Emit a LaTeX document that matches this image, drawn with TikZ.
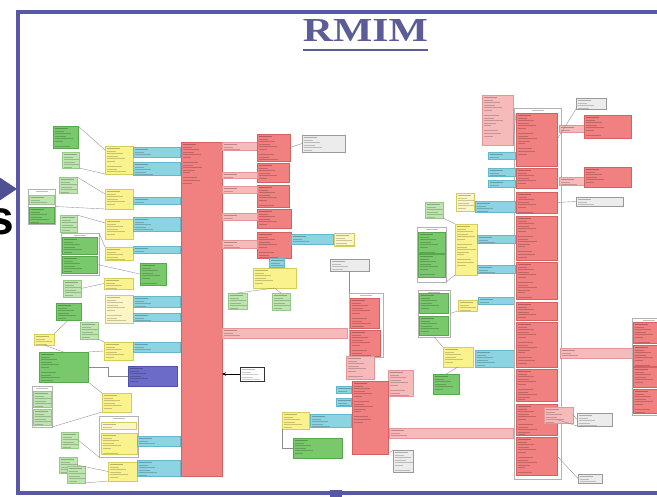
\documentclass[tikz,border=0pt]{standalone}
\usepackage{fontspec}
\usepackage{graphicx}
\setmainfont{Liberation Serif}
\newfontfamily\sansb{Liberation Sans}
\usetikzlibrary{fit,arrows.meta}
\definecolor{redF}{RGB}{241,128,128}
\definecolor{redD}{RGB}{214,96,96}
\definecolor{pinkF}{RGB}{246,186,186}
\definecolor{pinkD}{RGB}{226,150,150}
\definecolor{cyanF}{RGB}{140,212,226}
\definecolor{cyanD}{RGB}{100,184,204}
\definecolor{yelF}{RGB}{250,242,140}
\definecolor{yelD}{RGB}{214,204,90}
\definecolor{pyelF}{RGB}{252,246,198}
\definecolor{grnF}{RGB}{122,200,108}
\definecolor{grnD}{RGB}{86,168,76}
\definecolor{lgrnF}{RGB}{190,228,176}
\definecolor{lgrnD}{RGB}{150,200,136}
\definecolor{purF}{RGB}{108,108,200}
\definecolor{purD}{RGB}{80,80,170}
\definecolor{frameC}{RGB}{88,88,166}
\definecolor{titleC}{RGB}{92,92,150}
\definecolor{noteF}{RGB}{236,236,236}
\tikzset{
  base/.style={rectangle,inner sep=0pt,outer sep=0pt,line width=0.4pt},
  tx/.style={path picture={
    \draw[line width=0.9pt,draw=black,draw opacity=0.26]
      ([xshift=1.6pt,yshift=-2.6pt]path picture bounding box.north west) -- ++(13pt,0pt);
    \foreach \k/\w in {1/9,2/16,3/11,4/18,5/8,7/15,8/10,9/19,10/12,11/7,13/14,14/17,15/9}{
      \pgfmathsetmacro\yy{2.6+\k*2.55}
      \draw[line width=0.6pt,draw=black,draw opacity=0.2]
        ([xshift=1.6pt,yshift=-\yy pt]path picture bounding box.north west) -- ++(\w pt,0pt);
    }}},
  redb/.style={base,tx,draw=redD,fill=redF},
  pinkb/.style={base,tx,draw=pinkD,fill=pinkF},
  cyanb/.style={base,tx,draw=cyanD,fill=cyanF},
  yelb/.style={base,tx,draw=yelD,fill=yelF},
  pyelb/.style={base,tx,draw=yelD,fill=pyelF},
  grnb/.style={base,tx,draw=grnD,fill=grnF},
  lgrnb/.style={base,tx,draw=lgrnD,fill=lgrnF},
  purb/.style={base,tx,draw=purD,fill=purF},
  noteb/.style={base,tx,draw=black!40,fill=noteF},
  wb/.style={base,tx,draw=black!80,fill=white,line width=0.6pt},
  grpb/.style={base,draw=black!30,fill=white,line width=0.35pt,
    path picture={\draw[line width=0.5pt,draw=black,draw opacity=0.25]
      ([xshift=-6pt,yshift=-2pt]path picture bounding box.north) -- ++(12pt,0pt);}},
  conn/.style={draw=black!45,line width=0.35pt},
}
\newcommand\umlbox[6]{\node[#2,fit={(#3,#4) (#5,#6)}] (#1) {};}
\begin{document}
\begin{tikzpicture}[x=1pt,y=-1pt]
\useasboundingbox (0,0) rectangle (657,497);
\fill[white] (0,0) rectangle (657,497);
% frame
\draw[frameC,line width=4.5pt] (18,12) rectangle (690,493);
\fill[frameC] (330,490) rectangle (342,497);
\fill[frameC!90!black] (-4,175) -- (17,189) -- (-4,203) -- cycle;
\node[anchor=base east,inner sep=0pt,font=\sansb\bfseries\fontsize{48}{48}\selectfont] (sfrag) at (14,235) {s};
% title
\node[anchor=base,inner sep=0pt,text=titleC] (title) at (365.5,42) {\resizebox{125pt}{22pt}{\bfseries RMIM}};
\draw[titleC,line width=2.5pt] ([yshift=-8pt]title.base west) -- ([yshift=-8pt]title.base east);

% ---------------- left part ----------------
\umlbox{R0}{redb}{181}{142}{222}{476}
\umlbox{G1}{grnb}{53}{126}{78}{148}
\umlbox{LG1}{lgrnb}{62}{152}{79}{168}
\umlbox{Y1}{yelb}{105}{146}{133}{174}
\umlbox{C1}{cyanb}{133}{147}{180}{157}
\umlbox{C2}{cyanb}{133}{162}{180}{175}
\umlbox{LG2}{lgrnb}{59}{177}{77}{193}
\umlbox{Grp1}{grpb}{28}{189}{55}{224}
\umlbox{LG3}{lgrnb}{29}{195}{54}{204}
\umlbox{G2}{grnb}{29}{207}{54}{223}
\umlbox{Y2}{yelb}{105}{189}{133}{209}
\umlbox{C3}{cyanb}{133}{197}{180}{204}
\umlbox{LG4}{lgrnb}{60}{215}{77}{232}
\umlbox{Y3}{yelb}{105}{219}{133}{239}
\umlbox{C4}{cyanb}{133}{217}{180}{231}
\umlbox{Grp2}{grpb}{61}{233}{99}{275}
\umlbox{G3}{grnb}{62}{237}{97}{254}
\umlbox{G4}{grnb}{62}{256}{97}{273}
\umlbox{Y4}{yelb}{105}{247}{133}{260}
\umlbox{C5}{cyanb}{133}{246}{180}{253}
\umlbox{G5}{grnb}{140}{263}{166}{285}
\umlbox{LG5}{lgrnb}{63}{280}{81}{297}
\umlbox{Y5}{yelb}{104}{278}{133}{289}
\umlbox{Y6}{pyelb}{105}{295}{133}{323}
\umlbox{C6}{cyanb}{133}{296}{180}{307}
\umlbox{C7}{cyanb}{133}{313}{180}{321}
\umlbox{G6}{grnb}{56}{303}{81}{320}
\umlbox{LG6}{lgrnb}{80}{322}{98}{339}
\umlbox{Y7}{yelb}{34}{334}{54}{345}
\umlbox{Y8}{yelb}{104}{342}{133}{360}
\umlbox{C8}{cyanb}{133}{342}{180}{352}
\umlbox{G7}{grnb}{39}{352}{88}{382}
\umlbox{P1}{purb}{128}{366}{177}{386}
\umlbox{Grp3}{grpb}{32}{386}{52}{427}
\umlbox{LG7}{lgrnb}{33}{391}{51}{407}
\umlbox{LG8}{lgrnb}{33}{409}{51}{425}
\umlbox{Y9}{yelb}{102}{393}{131}{412}
\umlbox{Grp4}{grpb}{99}{416}{138}{457}
\umlbox{PY2}{pyelb}{101}{422}{136}{429}
\umlbox{Y10}{yelb}{101}{433}{137}{454}
\umlbox{C9}{cyanb}{137}{436}{180}{446}
\umlbox{LG9}{lgrnb}{61}{432}{78}{448}
\umlbox{LG10}{lgrnb}{59}{457}{77}{473}
\umlbox{LG11}{lgrnb}{67}{466}{85}{483}
\umlbox{Y11}{yelb}{108}{462}{137}{481}
\umlbox{C10}{cyanb}{137}{460}{180}{476}

% ---------------- middle part ----------------
\umlbox{PK1}{pinkb}{222}{142}{257}{150}
\umlbox{R1}{redb}{257}{134}{290}{161}
\umlbox{N1}{noteb}{302}{135}{345}{152}
\umlbox{R2}{redb}{257}{163}{289}{182}
\umlbox{PK2}{pinkb}{222}{172}{257}{178}
\umlbox{R3}{redb}{257}{185}{289}{207}
\umlbox{PK3}{pinkb}{222}{186}{257}{193}
\umlbox{R4}{redb}{257}{209}{291}{228}
\umlbox{PK4}{pinkb}{222}{213}{257}{220}
\umlbox{R5}{redb}{257}{232}{291}{258}
\umlbox{PK5}{pinkb}{222}{240}{257}{248}
\umlbox{C11}{cyanb}{291}{234}{333}{244}
\umlbox{PY3}{pyelb}{334}{233}{354}{246}
\umlbox{C12}{cyanb}{269}{258}{284}{267}
\umlbox{Y12}{yelb}{253}{268}{296}{288}
\umlbox{LG12}{lgrnb}{228}{293}{247}{309}
\umlbox{LG13}{lgrnb}{272}{293}{290}{310}
\umlbox{N2}{noteb}{330}{259}{369}{271}
\umlbox{Grp5}{grpb}{349}{293}{383}{357}
\umlbox{R6}{redb}{350}{298}{379}{328}
\umlbox{R7}{redb}{350}{330}{380}{356}
\umlbox{PK6}{pinkb}{222}{328}{347}{338}
\umlbox{PK7}{pinkb}{346}{356}{374}{379}
\umlbox{W1}{wb}{240}{367}{264}{381}
\umlbox{PK8}{pinkb}{388}{370}{413}{396}
\umlbox{R8}{redb}{352}{381}{388}{454}
\umlbox{C13}{cyanb}{336}{386}{351}{393}
\umlbox{C14}{cyanb}{336}{398}{351}{406}
\umlbox{Y13}{yelb}{282}{412}{309}{429}
\umlbox{C15}{cyanb}{310}{414}{351}{427}
\umlbox{G8}{grnb}{293}{438}{342}{458}
\umlbox{PK9}{pinkb}{389}{428}{513}{438}
\umlbox{N3}{noteb}{393}{450}{413}{472}
\umlbox{Grp6}{grpb}{418}{290}{450}{337}
\umlbox{G9}{grnb}{419}{293}{448}{313}
\umlbox{G10}{grnb}{419}{316}{448}{335}
\umlbox{Y14}{yelb}{458}{300}{477}{311}
\umlbox{C16}{cyanb}{478}{297}{514}{304}
\umlbox{Y15}{yelb}{443}{347}{473}{367}
\umlbox{C17}{cyanb}{475}{350}{514}{367}
\umlbox{G11}{grnb}{433}{374}{459}{394}

% ---------------- right part ----------------
\umlbox{PK10}{pinkb}{482}{95}{513}{145}
\umlbox{Grp7}{grpb}{514}{108}{561}{479}
\umlbox{R9}{redb}{516}{113}{557}{166}
\umlbox{R10}{redb}{516}{168}{557}{188}
\umlbox{R11}{redb}{516}{192}{557}{213}
\umlbox{R12}{redb}{516}{216}{557}{260}
\umlbox{R13}{redb}{516}{262}{557}{299}
\umlbox{R14}{redb}{516}{302}{557}{320}
\umlbox{R15}{redb}{516}{322}{557}{367}
\umlbox{R16}{redb}{516}{369}{557}{401}
\umlbox{R17}{redb}{516}{404}{557}{435}
\umlbox{R18}{redb}{516}{437}{557}{475}
\umlbox{N4}{noteb}{576}{98}{606}{109}
\umlbox{PK11}{pinkb}{559}{125}{584}{132}
\umlbox{R19}{redb}{584}{115}{631}{138}
\umlbox{PK12}{pinkb}{559}{177}{584}{185}
\umlbox{R20}{redb}{584}{167}{631}{187}
\umlbox{N5}{noteb}{576}{197}{623}{206}
\umlbox{C18}{cyanb}{488}{152}{515}{159}
\umlbox{C19}{cyanb}{488}{168}{515}{176}
\umlbox{C20}{cyanb}{488}{180}{515}{187}
\umlbox{PY4}{pyelb}{456}{193}{474}{211}
\umlbox{C21}{cyanb}{475}{201}{515}{212}
\umlbox{LG14}{lgrnb}{425}{202}{443}{218}
\umlbox{Y16}{yelb}{455}{224}{477}{275}
\umlbox{C22}{cyanb}{477}{235}{515}{243}
\umlbox{C23}{cyanb}{477}{265}{515}{273}
\umlbox{Grp8}{grpb}{417}{227}{446}{282}
\umlbox{G12}{grnb}{418}{232}{445}{253}
\umlbox{G13}{grnb}{418}{254}{445}{277}
\umlbox{PK13}{pinkb}{560}{348}{632}{358}
\umlbox{Grp9}{grpb}{632}{318}{665}{415}
\umlbox{R21}{redb}{633}{322}{665}{343}
\umlbox{R22}{redb}{633}{345}{665}{366}
\umlbox{R23}{redb}{633}{367}{665}{387}
\umlbox{R24}{redb}{633}{389}{665}{413}
\umlbox{PK14}{pinkb}{544}{407}{573}{423}
\umlbox{N6}{noteb}{577}{413}{612}{426}
\umlbox{N7}{noteb}{578}{474}{602}{483}

% ---------------- connectors ----------------
\coordinate (k1) at (108,376);
\draw[conn] (G1.north east) -- ([yshift=-4pt]Y1.north west);
\draw[conn] (LG1.south east) -- (Y1.south west);
\draw[conn] (LG2.north east) -- ([yshift=-5pt]Y2.north west);
\draw[conn] (Grp1.east) -- (Y2.south west);
\draw[conn] (LG4.north east) -- ([yshift=-4pt]Y3.north west);
\draw[conn] (Grp2.north east) -- (Y4.north west);
\draw[conn] (G4.east) -- (G5.west);
\draw[conn] (LG5.east) -- (Y5.west);
\draw[conn] (G6.south) -- (Y7.north east);
\draw[conn] (Y7.south) -- (G7.north);
\draw[conn] (LG6.south east) -- (Y8.north west);
\draw[conn] (G7.north east) -- (Y8.west);
\draw[conn] (G7.east) -| (k1) -- (P1.west);
\draw[conn] (G7.south east) -- (Y9.north west);
\draw[conn] (Grp3.south east) -- (Y9.south west);
\draw[conn] (LG9.east) -- (Grp4.south west);
\draw[conn] (LG10.east) -- (Y11.west);
\draw[conn] (LG11.south east) -- (Y11.south west);
\draw[conn] (Y12.south) -- (LG12.north);
\draw[conn] (Y12.south) -- (LG13.north);
\draw[conn] (N1.west) -- (R1.east);
\draw[conn] (N2.south) -- (N2.south |- Grp5.north);
\draw[conn] (N3.north west) -- (R8.south east);
\draw[conn] (Y13.south west) |- (G8.west);
\draw[conn] (Grp6.east) -- (Y14.south west);
\draw[conn] (Grp6.south) -- (Y15.north west);
\draw[conn] (Y15.south) -- (G11.north);
\draw[conn] (LG14.south east) -- (Y16.north west);
\draw[conn] (Grp8.south east) -- (Y16.south west);
\draw[conn] (N4.south west) -- (R9.east);
\draw[conn] (N5.west) -- (R11.east);
\draw[conn] (N6.west) -- (PK14.east);
\draw[conn] (N6.south west) -- (R17.east);
\draw[conn] (N7.west) -- (R18.east);
\draw[conn] (PK10.south east) -- (R9.north west);
\draw[line width=0.8pt,-{Stealth[length=4pt,width=3.5pt]}] (W1.west) -- (W1.west -| R0.east);
\end{tikzpicture}
\end{document}
